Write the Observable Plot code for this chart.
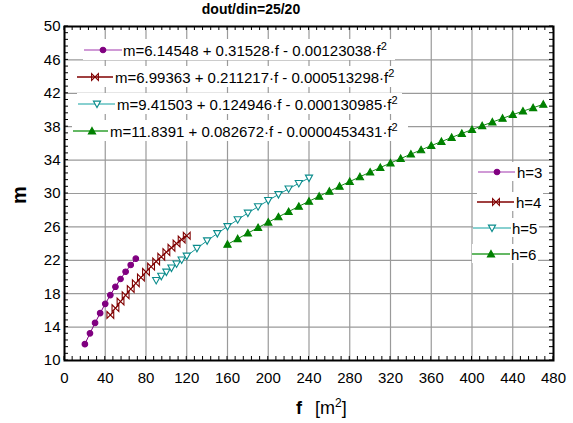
<!DOCTYPE html>
<html><head><meta charset="utf-8">
<script src="https://cdn.jsdelivr.net/npm/d3@7"></script>
<script src="https://cdn.jsdelivr.net/npm/@observablehq/plot@0.6"></script>
<style>body{margin:0;background:#fff} svg{display:block}</style>
</head><body><div id="chart"></div>
<script>
// ---------- data ----------
const title = "dout/din=25/20";
const xTicks = [0, 40, 80, 120, 160, 200, 240, 280, 320, 360, 400, 440, 480];
const yTicks = [10, 14, 18, 22, 26, 30, 34, 38, 42, 46, 50];
const seriesNames = ["h=3", "h=4", "h=5", "h=6"];
const fitLabels = [
  "m=6.14548 + 0.31528·f - 0.00123038·f",
  "m=6.99363 + 0.211217·f - 0.000513298·f",
  "m=9.41503 + 0.124946·f - 0.000130985·f",
  "m=11.8391 + 0.082672·f - 0.0000453431·f"
];
const fH3 = [20, 25, 30, 35, 40, 45, 50, 55, 60, 65, 70];
const mH3 = [11.96, 13.26, 14.50, 15.67, 16.79, 17.84, 18.83, 19.76, 20.63, 21.44, 22.19];
const fH4 = [45, 50, 55, 60, 65, 70, 75, 80, 85, 90, 95, 100, 105, 110, 115, 120];
const mH4 = [15.46, 16.27, 17.06, 17.82, 18.55, 19.26, 19.95, 20.61, 21.24, 21.85, 22.43, 22.98, 23.51, 24.02, 24.50, 24.95];
const fH5 = [90, 95, 100, 105, 110, 115, 120, 130, 140, 150, 160, 170, 180, 190, 200, 210, 220, 230, 240];
const mH5 = [19.60, 20.10, 20.60, 21.09, 21.57, 22.05, 22.52, 23.44, 24.34, 25.21, 26.05, 26.87, 27.66, 28.43, 29.17, 29.88, 30.56, 31.22, 31.86];
const fH6 = [160, 170, 180, 190, 200, 210, 220, 230, 240, 250, 260, 270, 280, 290, 300, 310, 320, 330, 340, 350, 360, 370, 380, 390, 400, 410, 420, 430, 440, 450, 460, 470];
const mH6 = [23.91, 24.58, 25.25, 25.91, 26.56, 27.20, 27.83, 28.46, 29.07, 29.67, 30.27, 30.86, 31.43, 32.00, 32.56, 33.11, 33.65, 34.18, 34.71, 35.22, 35.73, 36.22, 36.71, 37.19, 37.65, 38.11, 38.56, 39.00, 39.44, 39.86, 40.27, 40.68];

// ---------- styling ----------
const FONT = "'Liberation Sans', Arial, Helvetica, sans-serif";
const markColors = ["#800080", "#800000", "#0a8c8c", "#008000"];
const lineColors = ["#800080", "#800000", "#1a9898", "#108a10"];
const legendLineColors = ["#c078c8", "#800000", "#60c0c0", "#30a030"];

const rad = s => Math.sqrt(s / Math.PI);
const symCircle = {draw(c, s) { const r = rad(s); c.moveTo(r, 0); c.arc(0, 0, r, 0, 2 * Math.PI); }};
const symBowtie = {draw(c, s) { const r = rad(s); c.moveTo(-r, -r); c.lineTo(r, r); c.lineTo(r, -r); c.lineTo(-r, r); c.closePath(); }};
const symTriDown = {draw(c, s) { const r = rad(s); c.moveTo(-r, -0.8 * r); c.lineTo(r, -0.8 * r); c.lineTo(0, r); c.closePath(); }};
const symTriUp = {draw(c, s) { const r = rad(s); c.moveTo(0, -r); c.lineTo(r, 0.8 * r); c.lineTo(-r, 0.8 * r); c.closePath(); }};
const symbols = [symCircle, symBowtie, symTriDown, symTriUp];
const symR = [2.8, 3.4, 3.6, 3.6];
const symFill = [markColors[0], "none", "white", markColors[3]];
const symStroke = [markColors[0], markColors[1], markColors[2], markColors[3]];

const fs = [fH3, fH4, fH5, fH6];
const ms = [mH3, mH4, mH5, mH6];
const seriesData = fs.map((f, i) => f.map((v, j) => ({series: seriesNames[i], f: v, m: ms[i][j]})));

const seriesMarks = seriesData.flatMap((d, i) => [
  Plot.line(d, {x: "f", y: "m", stroke: lineColors[i], strokeWidth: 1}),
  Plot.dot(d, {x: "f", y: "m", symbol: symbols[i], r: symR[i], fill: symFill[i], stroke: symStroke[i], strokeWidth: 1.1})
]);

const plot = Plot.plot({
  width: 573, height: 423,
  marginLeft: 64, marginRight: 20, marginTop: 26, marginBottom: 63,
  style: {fontFamily: FONT, fontSize: "15px", background: "white", color: "black"},
  x: {domain: [0, 480]},
  y: {domain: [10, 50]},
  marks: [
    Plot.gridX(xTicks, {stroke: "#9a9a9a", strokeOpacity: 1, strokeWidth: 1.2}),
    Plot.gridY(yTicks, {stroke: "#9a9a9a", strokeOpacity: 1, strokeWidth: 1.2}),
    Plot.axisX(xTicks, {tickSize: 0, tickPadding: 12, label: null, fontSize: 15, fill: "black"}),
    Plot.axisY(yTicks, {tickSize: 0, tickPadding: 4, label: null, fontSize: 15, fill: "black"}),
    ...seriesMarks,
    Plot.frame({stroke: "black", strokeWidth: 2})
  ]
});
document.getElementById("chart").appendChild(plot);

// ---------- decorations (via the plot's own scales) ----------
const svg = d3.select(plot);
const sx = plot.scale("x"), sy = plot.scale("y");
const [x0, x1] = sx.range, [y0, y1] = sy.range; // y0 bottom, y1 top
const deco = svg.append("g").attr("font-family", FONT).attr("text-anchor", "start");

// minor ticks inward on all four sides
const minorX = d3.range(0, 480.001, 8);
const minorY = d3.range(10, 50.001, 0.8);
const tickG = deco.append("g").attr("stroke", "black").attr("stroke-width", 1);
minorX.forEach(v => {
  const px = sx.apply(v);
  tickG.append("line").attr("x1", px).attr("x2", px).attr("y1", y0).attr("y2", y0 - 4);
  tickG.append("line").attr("x1", px).attr("x2", px).attr("y1", y1).attr("y2", y1 + 4);
});
minorY.forEach(v => {
  const py = sy.apply(v);
  tickG.append("line").attr("y1", py).attr("y2", py).attr("x1", x0).attr("x2", x0 + 4);
  tickG.append("line").attr("y1", py).attr("y2", py).attr("x1", x1).attr("x2", x1 - 4);
});

function symbolPath(i) {
  const p = d3.path();
  symbols[i].draw(p, symR[i] * symR[i] * Math.PI);
  return p.toString();
}

// fit equations legend (top-left)
const fitRows = [
  {y: 50, l0: 84, l1: 122, mk: 103, tx: 123, w: 270},
  {y: 77, l0: 77, l1: 113, mk: 95, tx: 115, w: 285},
  {y: 104, l0: 78, l1: 115, mk: 97, tx: 117, w: 283},
  {y: 131, l0: 73, l1: 108, mk: 92, tx: 110, w: 296}
];
fitRows.forEach((r, i) => {
  const g = deco.append("g");
  g.append("rect").attr("x", r.l0 - 1).attr("y", r.y - 11).attr("width", r.w + (r.tx - r.l0) + 3).attr("height", 21).attr("fill", "white");
  g.append("line").attr("x1", r.l0).attr("x2", r.l1).attr("y1", r.y).attr("y2", r.y).attr("stroke", legendLineColors[i]).attr("stroke-width", 1.5);
  g.append("path").attr("d", symbolPath(i)).attr("transform", `translate(${r.mk},${r.y})`)
    .attr("fill", symFill[i]).attr("stroke", symStroke[i]).attr("stroke-width", 1.1);
  const t = g.append("text").attr("x", r.tx).attr("y", r.y + 5.5).attr("font-size", 15).attr("fill", "black").attr("text-anchor", "start");
  t.append("tspan").text(fitLabels[i]);
  t.append("tspan").attr("dy", -6).attr("font-size", 11).text("2");
});

// series legend (right)
const serRows = [
  {y: 172, l0: 478, l1: 515, mk: 497, tx: 517},
  {y: 202, l0: 477, l1: 514, mk: 496, tx: 516},
  {y: 228, l0: 473, l1: 511, mk: 492, tx: 512},
  {y: 254, l0: 472, l1: 510, mk: 491, tx: 511}
];
serRows.forEach((r, i) => {
  const g = deco.append("g");
  g.append("rect").attr("x", r.l0).attr("y", r.y - 10).attr("width", r.tx - r.l0 + 27).attr("height", 19).attr("fill", "white");
  g.append("line").attr("x1", r.l0).attr("x2", r.l1).attr("y1", r.y).attr("y2", r.y).attr("stroke", legendLineColors[i]).attr("stroke-width", 1.5);
  g.append("path").attr("d", symbolPath(i)).attr("transform", `translate(${r.mk},${r.y})`)
    .attr("fill", symFill[i]).attr("stroke", symStroke[i]).attr("stroke-width", 1.1);
  g.append("text").attr("x", r.tx).attr("y", r.y + 5.5).attr("font-size", 15).attr("fill", "black").attr("text-anchor", "start").text(seriesNames[i]);
});

// title and axis titles
deco.append("text").attr("x", 251).attr("y", 14).attr("text-anchor", "middle")
  .attr("font-size", 14).attr("font-weight", "bold").text(title);
deco.append("text").attr("transform", "translate(26,195) rotate(-90)").attr("text-anchor", "middle")
  .attr("font-size", 20).attr("font-weight", "bold").text("m");
const xt = deco.append("text").attr("x", 296).attr("y", 414).attr("font-size", 18).attr("text-anchor", "start");
xt.append("tspan").attr("font-weight", "bold").text("f");
xt.append("tspan").attr("x", 315).text("[m");
xt.append("tspan").attr("dy", -7).attr("font-size", 12).text("2");
xt.append("tspan").attr("dy", 7).text("]");
</script>
</body></html>
